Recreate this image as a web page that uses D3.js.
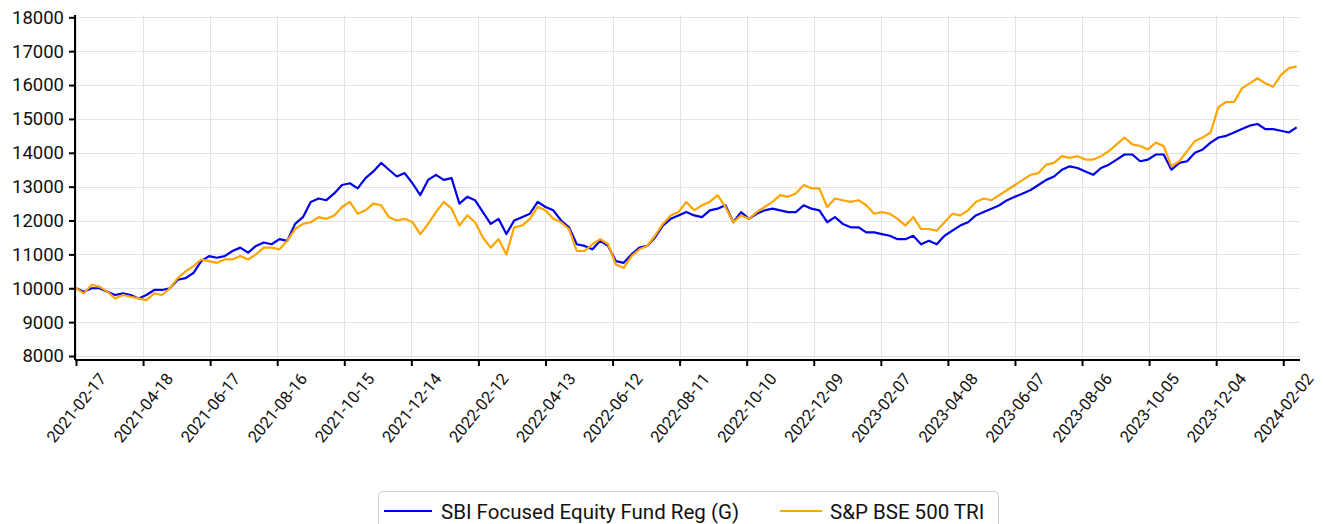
<!DOCTYPE html>
<html>
<head>
<meta charset="utf-8">
<script src="https://cdn.jsdelivr.net/npm/d3@7"></script>
<style>
  html, body { margin: 0; padding: 0; background: #fff; }
  svg { display: block; font-family: Roboto, "Noto Sans", sans-serif; }
</style>
</head>
<body>
<svg id="chart" width="1323" height="524"></svg>
<script>
const startDate = "2021-02-17";
const stepDays = 7;
const seriesNames = ["SBI Focused Equity Fund Reg (G)", "S&P BSE 500 TRI"];
const fundValues = [
  10000, 9900, 10000, 10000, 9900, 9800, 9850, 9800, 9700, 9800,
  9950, 9950, 10000, 10250, 10300, 10450, 10800, 10950, 10900, 10950,
  11100, 11200, 11050, 11250, 11350, 11300, 11450, 11400, 11900, 12100,
  12550, 12650, 12600, 12800, 13050, 13100, 12950, 13250, 13450, 13700,
  13500, 13300, 13400, 13100, 12750, 13200, 13350, 13200, 13250, 12500,
  12700, 12600, 12250, 11900, 12050, 11600, 12000, 12100, 12200, 12550,
  12400, 12300, 12000, 11800, 11300, 11250, 11150, 11400, 11250, 10800,
  10750, 11000, 11200, 11250, 11500, 11850, 12050, 12150, 12250, 12150,
  12100, 12300, 12350, 12450, 11950, 12250, 12050, 12200, 12300, 12350,
  12300, 12250, 12250, 12450, 12350, 12300, 11950, 12100, 11900, 11800,
  11800, 11650, 11650, 11600, 11550, 11450, 11450, 11550, 11300, 11400,
  11300, 11550, 11700, 11850, 11950, 12150, 12250, 12350, 12450, 12600,
  12700, 12800, 12900, 13050, 13200, 13300, 13500, 13600, 13550, 13450,
  13350, 13550, 13650, 13800, 13950, 13950, 13750, 13800, 13950, 13950,
  13500, 13700, 13750, 14000, 14100, 14300, 14450, 14500, 14600, 14700,
  14800, 14850, 14700, 14700, 14650, 14600, 14750
];
const indexValues = [
  10000, 9850, 10100, 10050, 9900, 9700, 9800, 9750, 9700, 9650,
  9850, 9800, 10000, 10300, 10500, 10650, 10850, 10800, 10750, 10850,
  10850, 10950, 10850, 11000, 11200, 11200, 11150, 11400, 11750, 11900,
  11950, 12100, 12050, 12150, 12400, 12550, 12200, 12300, 12500, 12450,
  12100, 12000, 12050, 11950, 11600, 11900, 12250, 12550, 12350, 11850,
  12150, 11950, 11500, 11200, 11450, 11000, 11800, 11850, 12050, 12400,
  12300, 12050, 11950, 11750, 11100, 11100, 11300, 11450, 11300, 10700,
  10600, 10950, 11150, 11250, 11550, 11900, 12150, 12250, 12550, 12300,
  12450, 12550, 12750, 12400, 11950, 12150, 12050, 12250, 12400, 12550,
  12750, 12700, 12800, 13050, 12950, 12950, 12400, 12650, 12600, 12550,
  12600, 12450, 12200, 12250, 12200, 12050, 11850, 12100, 11750, 11750,
  11700, 11950, 12200, 12150, 12300, 12550, 12650, 12600, 12750, 12900,
  13050, 13200, 13350, 13400, 13650, 13700, 13900, 13850, 13900, 13800,
  13800, 13900, 14050, 14250, 14450, 14250, 14200, 14100, 14300, 14200,
  13600, 13750, 14050, 14350, 14450, 14600, 15350, 15500, 15500, 15900,
  16050, 16200, 16050, 15950, 16300, 16500, 16550
];
const xTickLabels = [
  "2021-02-17", "2021-04-18", "2021-06-17", "2021-08-16", "2021-10-15",
  "2021-12-14", "2022-02-12", "2022-04-13", "2022-06-12", "2022-08-11",
  "2022-10-10", "2022-12-09", "2023-02-07", "2023-04-08", "2023-06-07",
  "2023-08-06", "2023-10-05", "2023-12-04", "2024-02-02"
];
const yTickValues = [8000, 9000, 10000, 11000, 12000, 13000, 14000, 15000, 16000, 17000, 18000];
const seriesColors = ["#0000ee", "#ffa500"];

// ---- layout ----
const svg = d3.select("#chart");
const parse = d3.utcParse("%Y-%m-%d");
const t0 = parse(startDate);
const dates = fundValues.map((_, i) => d3.utcDay.offset(t0, i * stepDays));

const x = d3.scaleUtc()
  .domain([t0, parse("2024-02-17")])
  .range([76, 1300]);
const y = d3.scaleLinear()
  .domain([7882, 18068])
  .range([360, 15]);

const plotLeft = 75, plotRight = 1300, plotTop = 15, plotBottom = 360;

// grid
const grid = svg.append("g").attr("stroke", "#e3e3e3").attr("stroke-width", 1);
yTickValues.forEach(v => {
  grid.append("line")
    .attr("x1", plotLeft).attr("x2", plotRight)
    .attr("y1", Math.round(y(v)) + 0.5).attr("y2", Math.round(y(v)) + 0.5);
});
xTickLabels.forEach(s => {
  const px = Math.round(x(parse(s))) + 0.5;
  grid.append("line")
    .attr("x1", px).attr("x2", px)
    .attr("y1", plotTop).attr("y2", plotBottom);
});

// lines
const lineGen = d3.line()
  .x((d, i) => x(dates[i]))
  .y(d => y(d));

[fundValues, indexValues].forEach((vals, k) => {
  svg.append("path")
    .datum(vals)
    .attr("fill", "none")
    .attr("stroke", seriesColors[k])
    .attr("stroke-width", 2.2)
    .attr("stroke-linejoin", "round")
    .attr("d", lineGen);
});

// y axis
const yAxis = d3.axisLeft(y).tickValues(yTickValues).tickSize(6).tickPadding(5).tickFormat(d3.format("d"));
const gy = svg.append("g").attr("transform", `translate(${plotLeft},0)`).call(yAxis);
gy.select(".domain").attr("d", `M0,${plotTop}V${plotBottom}`).attr("stroke", "#000").attr("stroke-width", 2);
gy.selectAll(".tick line").attr("stroke", "#000").attr("stroke-width", 2);
gy.selectAll(".tick text").attr("font-size", 18.5).attr("fill", "#111").attr("font-family", "Roboto, sans-serif");

// x axis
const xAxis = d3.axisBottom(x)
  .tickValues(xTickLabels.map(parse))
  .tickSize(6)
  .tickFormat(d3.utcFormat("%Y-%m-%d"));
const gx = svg.append("g").attr("transform", `translate(0,${plotBottom})`).call(xAxis);
gx.select(".domain").attr("d", `M${plotLeft},0H${plotRight}`).attr("stroke", "#000").attr("stroke-width", 2);
gx.selectAll(".tick line").attr("stroke", "#000").attr("stroke-width", 2);
gx.selectAll(".tick text")
  .attr("font-size", 16.5)
  .attr("fill", "#111")
  .attr("font-family", "Roboto, sans-serif")
  .attr("text-anchor", "middle")
  .attr("dy", null)
  .attr("y", 0)
  .attr("transform", "translate(0,48) rotate(-51)")
  .attr("dominant-baseline", "central");

// legend
const lg = svg.append("g");
lg.append("rect")
  .attr("x", 378.5).attr("y", 491.5)
  .attr("width", 620).attr("height", 45)
  .attr("rx", 4)
  .attr("fill", "#fff")
  .attr("stroke", "#cccccc");
const items = [
  { x0: 384, x1: 432, tx: 441 },
  { x0: 780, x1: 822, tx: 830 }
];
items.forEach((it, k) => {
  lg.append("line")
    .attr("x1", it.x0).attr("x2", it.x1)
    .attr("y1", 511).attr("y2", 511)
    .attr("stroke", seriesColors[k]).attr("stroke-width", 2);
  lg.append("text")
    .attr("x", it.tx).attr("y", 519)
    .attr("font-size", 20.5)
    .attr("fill", "#111")
    .text(seriesNames[k]);
});
</script>
</body>
</html>
